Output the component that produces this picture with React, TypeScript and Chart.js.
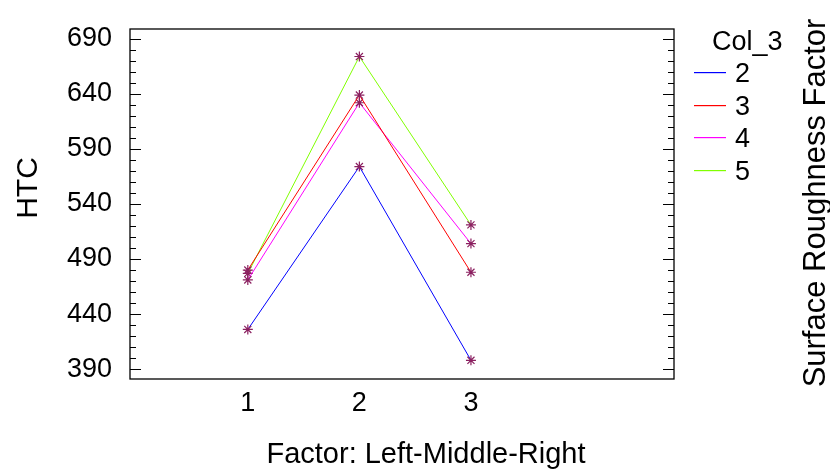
import React, { useEffect, useRef } from "react";
import { Chart, registerables } from "chart.js";

Chart.register(...registerables);

const factorLevels = [1, 2, 3];
const seriesNames = ["2", "3", "4", "5"];
const htc2 = [426, 574, 398];
const htc3 = [480, 639, 478];
const htc4 = [471, 632, 504];
const htc5 = [477, 674, 521];
const seriesColors = ["#0000ff", "#ff0000", "#ff00ff", "#80ff00"];
const yTickValues = [390, 440, 490, 540, 590, 640, 690];
const xTickValues = [1, 2, 3];
const legendTitle = "Col_3";
const yTitle = "HTC";
const xTitle = "Factor: Left-Middle-Right";
const rightTitle = "Surface Roughness Factor";

const FONT = "'Liberation Sans', Arial, sans-serif";

const decorPlugin = {
  id: "decor",
  afterDraw(chart: any) {
    const ctx = chart.ctx;
    const { left, right, top, bottom } = chart.chartArea;
    const ys = chart.scales.y;
    ctx.save();
    ctx.strokeStyle = "#000";
    ctx.lineWidth = 1.3;
    ctx.strokeRect(left, top, right - left, bottom - top);
    ctx.lineWidth = 1;
    for (let v = 390; v <= 690; v += 10) {
      const y = Math.round(ys.getPixelForValue(v)) + 0.5;
      const len = (v - 390) % 50 === 0 ? 11 : 6;
      ctx.beginPath();
      ctx.moveTo(left, y);
      ctx.lineTo(left + len, y);
      ctx.moveTo(right, y);
      ctx.lineTo(right - len, y);
      ctx.stroke();
    }
    // legend
    ctx.font = `27px ${FONT}`;
    ctx.textAlign = "left";
    ctx.textBaseline = "alphabetic";
    const cap = 27 * 0.358;
    ctx.fillStyle = "#000";
    ctx.fillText(legendTitle, 712, 40 + cap);
    const rowY = [72, 105, 137, 170];
    seriesNames.forEach((name, i) => {
      ctx.fillStyle = seriesColors[i];
      ctx.fillRect(694, rowY[i], 32, 1.2);
      ctx.fillStyle = "#000";
      ctx.fillText(name, 735, rowY[i] + cap);
    });
    // x title
    ctx.fillStyle = "#000";
    ctx.font = `29px ${FONT}`;
    ctx.textAlign = "center";
    ctx.fillText(xTitle, 426, 453 + 29 * 0.358);
    // y title
    ctx.save();
    ctx.translate(26, 188);
    ctx.rotate(-Math.PI / 2);
    ctx.font = `30px ${FONT}`;
    ctx.fillText(yTitle, 0, 30 * 0.358);
    ctx.restore();
    // right title
    ctx.save();
    ctx.translate(814, 203);
    ctx.rotate(-Math.PI / 2);
    ctx.font = `31px ${FONT}`;
    ctx.fillText(rightTitle, 0, 31 * 0.358);
    ctx.restore();
    ctx.restore();
  },
};

export default function App() {
  const ref = useRef<HTMLCanvasElement>(null);
  useEffect(() => {
    document.body.style.margin = "0";
    const all = [htc2, htc3, htc4, htc5];
    const chart = new Chart(ref.current!, {
      type: "line",
      data: {
        datasets: all.map((vals, i) => ({
          label: seriesNames[i],
          data: vals.map((v, j) => ({ x: factorLevels[j], y: v })),
          borderColor: seriesColors[i],
          borderWidth: 1,
          pointStyle: "star",
          pointRadius: 5,
          pointBorderColor: "#8b2060",
          pointBackgroundColor: "#8b2060",
          pointBorderWidth: 1.2,
          tension: 0,
          fill: false,
        })),
      },
      options: {
        animation: false,
        responsive: false,
        devicePixelRatio: 1,
        layout: { padding: { left: 0, top: 29, right: 156, bottom: 0 } },
        plugins: { legend: { display: false }, tooltip: { enabled: false } },
        scales: {
          x: {
            type: "linear",
            min: -0.056,
            max: 4.82,
            grid: { display: false },
            border: { display: false },
            afterBuildTicks: (s: any) => {
              s.ticks = xTickValues.map((v) => ({ value: v }));
            },
            afterFit: (s: any) => {
              s.height = 94;
            },
            ticks: {
              color: "#000",
              font: { family: FONT, size: 27 },
              padding: 0,
              maxRotation: 0,
              callback: (v: any) => String(v),
            },
          },
          y: {
            min: 381,
            max: 699,
            grid: { display: false },
            border: { display: false },
            afterBuildTicks: (s: any) => {
              s.ticks = yTickValues.map((v) => ({ value: v }));
            },
            afterFit: (s: any) => {
              s.width = 130;
            },
            ticks: {
              color: "#000",
              font: { family: FONT, size: 27 },
              padding: 10,
              callback: (v: any) => String(v),
            },
          },
        },
      },
      plugins: [decorPlugin],
    } as any);
    return () => chart.destroy();
  }, []);
  return (
    <div style={{ position: "absolute", left: 0, top: 0, width: 830, height: 473, background: "#fff" }}>
      <canvas ref={ref} width={830} height={473} />
    </div>
  );
}
